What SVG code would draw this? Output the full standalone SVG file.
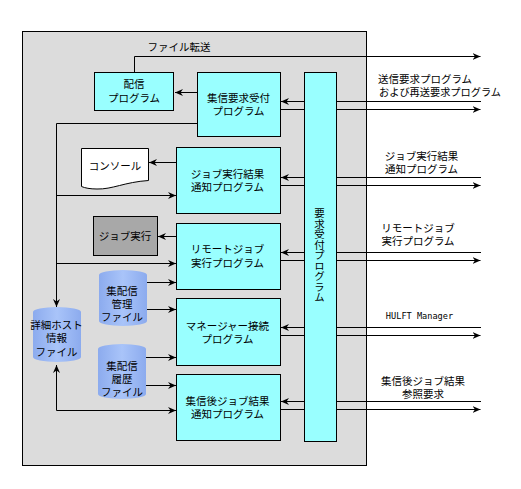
<svg xmlns="http://www.w3.org/2000/svg" width="521" height="489" viewBox="0 0 521 489">
<style>
text{font-family:"Liberation Sans","Noto Sans CJK JP",sans-serif;font-size:10.5px;fill:#000;text-anchor:middle}
.box{fill:#99ffff;stroke:#000;stroke-width:1}
.ln{fill:none;stroke:#000;stroke-width:1}
.ar{marker-end:url(#a)}
.cyl{fill:url(#g)}
</style>
<defs>
<marker id="a" markerUnits="userSpaceOnUse" markerWidth="9" markerHeight="9" refX="8" refY="4.5" orient="auto-start-reverse"><path d="M0 1L8 4.500L0 8L2.500 4.500Z" fill="#000"/></marker>
<linearGradient id="g" x1="0" x2="1" y1="0" y2="0"><stop offset="0" stop-color="#8cabee"/><stop offset=".5" stop-color="#a9c4f9"/><stop offset="1" stop-color="#8cabee"/></linearGradient>
</defs>
<rect id="host" x="22.500" y="31.500" width="344" height="434" fill="#dcdcdc" stroke="#000"/>
<g id="connectors">
<path class="ln ar" d="M134.500 72V56.500H480.500"/>
<path class="ln ar" d="M197 92.500H175"/>
<path class="ln ar" d="M481 101.500H281"/>
<path class="ln ar" d="M281 109.500H480.500"/>
<path class="ln ar" d="M481 177.500H281"/>
<path class="ln ar" d="M281 185.500H480.500"/>
<path class="ln ar" d="M481 252.500H281"/>
<path class="ln ar" d="M281 260.500H480.500"/>
<path class="ln ar" d="M481 327.500H281"/>
<path class="ln ar" d="M281 335.500H480.500"/>
<path class="ln ar" d="M481 401.500H281"/>
<path class="ln ar" d="M281 409.500H480.500"/>
<path class="ln ar" d="M197 123.500H56.500V307"/>
<path class="ln ar" d="M56.500 195.500H176"/>
<path class="ln ar" d="M56.500 263.500H176"/>
<path class="ln ar" d="M176 162.500H149"/>
<path class="ln ar" d="M176 236.500H158"/>
<path class="ln ar" d="M147 282.500H176"/>
<path class="ln ar" d="M147 309.500H176"/>
<path class="ln ar" d="M146 357.500H176"/>
<path class="ln ar" d="M146 385.500H176"/>
<path class="ln" d="M176 410.500H56.500V365" marker-start="url(#a)" marker-end="url(#a)"/>
</g>
<g id="n-haishin"><rect class="box" x="94.500" y="72.500" width="79" height="38"/><text x="134" y="88">配信<tspan x="134" y="101.500">プログラム</tspan></text></g>
<g id="n-shushin"><rect class="box" x="197.500" y="72.500" width="83" height="64"/><text x="238.500" y="102">集信要求受付<tspan x="238.500" y="115">プログラム</tspan></text></g>
<g id="n-console"><path d="M81.500 148.500H148.500V180.500C125 182 112 189.500 97 189C90 189 85 188 81.500 186.500Z" fill="#fff" stroke="#000"/><text x="115" y="170">コンソール</text></g>
<g id="n-kekka"><rect class="box" x="176.500" y="147.500" width="104" height="66"/><text x="227.500" y="177.500">ジョブ実行結果<tspan x="227.500" y="191">通知プログラム</tspan></text></g>
<g id="n-exec"><rect x="93.500" y="216.500" width="64" height="39" fill="#a8a8a8" stroke="#000"/><text x="125" y="240">ジョブ実行</text></g>
<g id="n-remote"><rect class="box" x="176.500" y="223.500" width="104" height="66"/><text x="227.500" y="253">リモートジョブ<tspan x="227.500" y="267">実行プログラム</tspan></text></g>
<g id="n-manager"><rect class="box" x="176.500" y="298.500" width="104" height="67"/><text x="227.500" y="330">マネージャー接続<tspan x="227.500" y="343">プログラム</tspan></text></g>
<g id="n-post"><rect class="box" x="176.500" y="374.500" width="104" height="66"/><text x="227.500" y="405">集信後ジョブ結果<tspan x="227.500" y="418">通知プログラム</tspan></text></g>
<g id="n-uketsuke"><rect class="box" x="304.500" y="72.500" width="32" height="369"/><text x="319" y="255.500" style="writing-mode:vertical-rl;text-orientation:upright">要求受付プログラム</text></g>
<g id="n-kanri"><path class="cyl" d="M99 275A24 5 0 0 1 147 275V321A24 5 0 0 1 99 321Z"/><text x="122" y="295">集配信<tspan x="122" y="308">管理</tspan><tspan x="122" y="321">ファイル</tspan></text></g>
<g id="n-rireki"><path class="cyl" d="M98 349A24 5 0 0 1 146 349V394A24 5 0 0 1 98 394Z"/><text x="122" y="370">集配信<tspan x="122" y="383">履歴</tspan><tspan x="122" y="396">ファイル</tspan></text></g>
<g id="n-host"><path class="cyl" d="M33 312A24 5 0 0 1 81 312V357A24 5 0 0 1 33 357Z"/><text x="56.500" y="329">詳細ホスト<tspan x="56.500" y="342">情報</tspan><tspan x="56.500" y="356">ファイル</tspan></text></g>
<g id="labels">
<text x="179" y="51">ファイル転送</text>
<text x="425" y="83">送信要求プログラム<tspan x="440" y="96" style="font-size:10.2px">および再送要求プログラム</tspan></text>
<text x="421.500" y="160">ジョブ実行結果<tspan x="421.500" y="173">通知プログラム</tspan></text>
<text x="418" y="232">リモートジョブ<tspan x="418" y="245">実行プログラム</tspan></text>
<text x="419.500" y="319" style="font-family:'DejaVu Sans Mono',monospace;font-size:8.600px">HULFT Manager</text>
<text x="423" y="385">集信後ジョブ結果<tspan x="423" y="398">参照要求</tspan></text>
</g>
</svg>
